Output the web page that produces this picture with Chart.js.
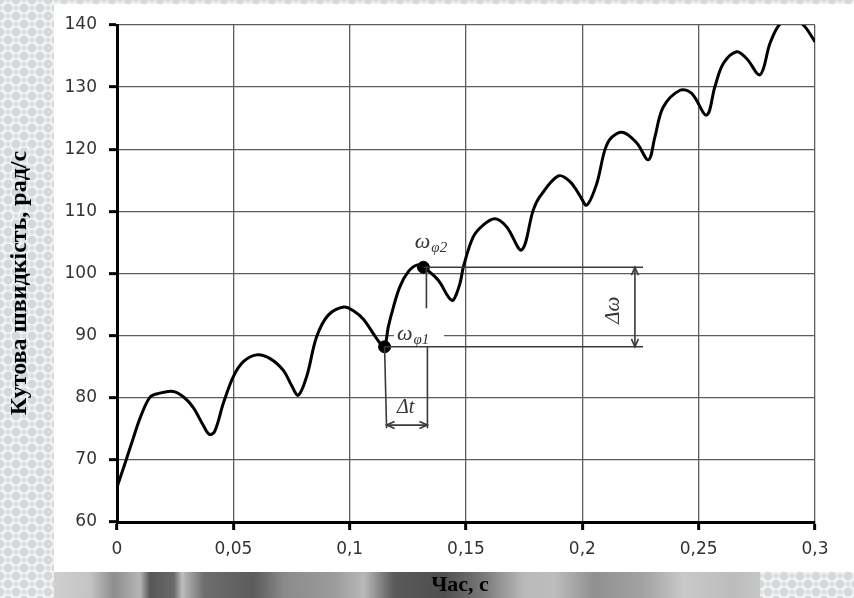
<!DOCTYPE html>
<html>
<head>
<meta charset="utf-8">
<script src="https://cdn.jsdelivr.net/npm/chart.js@4/dist/chart.umd.min.js"></script>
<style>
  html, body { margin: 0; padding: 0; }
  body {
    width: 854px; height: 598px; position: relative; overflow: hidden;
    background-color: #d6d9dc;
    background-image:
      radial-gradient(circle, transparent 4px, rgba(255,255,255,0.75) 5px, transparent 7px),
      radial-gradient(circle, transparent 4px, rgba(255,255,255,0.75) 5px, transparent 7px);
    background-size: 16px 16px;
    background-position: 0 0, 8px 8px;
  }
  #strip {
    position: absolute; left: 54px; top: 572px; width: 706px; height: 26px;
    background: linear-gradient(90deg, #cfcfcf 0px, #c4c4c4 36px, #8d8d8d 60px, #b5b5b5 86px, #575757 96px,
      #6a6a6a 120px, #bdbdbd 128px, #6e6e6e 150px, #5c5c5c 200px, #8a8a8a 230px, #9c9c9c 280px,
      #b8b8b8 310px, #5a5a5a 340px, #4e4e4e 390px, #7a7a7a 430px, #b9b9b9 470px, #bdbdbd 500px,
      #8f8f8f 540px, #a3a3a3 590px, #c9c9c9 630px, #bcbcbc 680px, #c6c6c6 706px);
  }
  #panel { position: absolute; left: 54px; top: 4px; width: 800px; height: 568px; background: #fff; }
  #chart { position: absolute; left: 0; top: 0; }
</style>
</head>
<body>
<div id="strip"></div>
<div id="panel"></div>
<canvas id="chart" width="854" height="598"></canvas>
<script>
// Angular speed of the rotor over time
const timeValues = [
  0.000, 0.0035, 0.007, 0.010, 0.0142, 0.018, 0.0242, 0.029, 0.0328, 0.037,
  0.0397, 0.042, 0.0457, 0.050, 0.0543, 0.060, 0.0658, 0.0715, 0.075, 0.0779,
  0.0815, 0.0858, 0.0908, 0.0975, 0.1016, 0.1060, 0.1100, 0.1130, 0.1150, 0.1166,
  0.1188, 0.1216, 0.1252, 0.1288, 0.1317, 0.1381, 0.1424, 0.1445, 0.1474, 0.1489,
  0.1531, 0.1574, 0.1625, 0.1675, 0.1739, 0.1789, 0.1818, 0.1897, 0.1947, 0.199,
  0.2019, 0.2062, 0.2097, 0.2126, 0.2176, 0.2234, 0.2284, 0.2312, 0.2348, 0.2420,
  0.2470, 0.2534, 0.2570, 0.2606, 0.2663, 0.2706, 0.2764, 0.2807, 0.2850, 0.2900,
  0.2950, 0.3000
];
const speedValues = [
  65.6, 69.5, 73.5, 76.8, 80.1, 80.7, 81.0, 80.0, 78.4, 75.6,
  74.1, 74.6, 79.1, 83.4, 85.8, 86.9, 86.3, 84.4, 82.0, 80.4,
  83.4, 89.8, 93.3, 94.6, 94.0, 92.6, 90.4, 88.8, 88.2, 91.4,
  94.6, 97.9, 100.3, 101.35, 101.0, 98.9, 96.25, 95.7, 98.4, 101.1,
  105.9, 107.8, 108.8, 107.5, 103.8, 110.2, 112.4, 115.7, 114.8, 112.5,
  111.0, 114.5, 119.9, 121.9, 122.7, 121.0, 118.3, 122.0, 126.8, 129.5,
  129.0, 125.5, 130.1, 133.8, 135.7, 134.6, 132.0, 137.1, 140.2, 141.0,
  140.0, 137.3
];

// Marked points ω_φ1 and ω_φ2
const markerTimes = [0.1150, 0.1317];
const markerSpeeds = [88.2, 101.0];
const markerSubscripts = ['φ1', 'φ2'];

// Axis ticks
const xTickLabels = ['0', '0,05', '0,1', '0,15', '0,2', '0,25', '0,3'];
const yMin = 60, yMax = 140, yStep = 10;

const xTitle = 'Час, с';
const yTitle = 'Кутова швидкість, рад/с';

// Dimension-line layout (in data units)
const guide = {
  lineEndTime: 0.2261,      // right end of the horizontal lines
  dOmegaArrowTime: 0.2226,  // vertical Δω arrow
  drop2EndSpeed: 94.4,      // end of the drop line under ω_φ2
  dtLineEndSpeed: 75.1,     // bottom of the Δt extension lines
  dtArrowSpeed: 75.6,       // Δt arrow level
  label2: [0.1280, 104.1],
  label1: [0.1203, 89.3],
  dtLabel: [0.1203, 77.5],
  dOmegaLabel: [0.2132, 94.1]
};

const lineData = timeValues.map((t, i) => ({ x: t, y: speedValues[i] }));
const markerData = markerTimes.map((t, i) => ({ x: t, y: markerSpeeds[i] }));

function arrowHead(ctx, x, y, dx, dy) {
  const len = 8, w = 3.5;
  const px = -dy, py = dx;
  ctx.beginPath();
  ctx.moveTo(x - dx * len + px * w, y - dy * len + py * w);
  ctx.lineTo(x, y);
  ctx.lineTo(x - dx * len - px * w, y - dy * len - py * w);
  ctx.stroke();
}

function drawOmega(ctx, x, y, sub) {
  ctx.font = 'italic 22px "Liberation Serif"';
  ctx.textAlign = 'left';
  ctx.textBaseline = 'alphabetic';
  ctx.fillText('ω', x, y);
  const w = ctx.measureText('ω').width;
  ctx.font = 'italic 15px "Liberation Serif"';
  ctx.fillText(sub, x + w + 1, y + 4);
}

const guidesPlugin = {
  id: 'guides',
  beforeDatasetsDraw(chart) {
    const { ctx, scales: { x, y } } = chart;
    // clear the grid behind the ω_φ1 label
    const lx = x.getPixelForValue(guide.label1[0]);
    const ly = y.getPixelForValue(guide.label1[1]);
    ctx.save();
    ctx.fillStyle = '#fff';
    ctx.fillRect(lx - 3, ly - 12, 50, 17);
    ctx.restore();
  },
  afterDatasetsDraw(chart) {
    const { ctx, scales: { x, y } } = chart;
    const X = v => x.getPixelForValue(v);
    const Y = v => y.getPixelForValue(v);
    const x1 = X(markerTimes[0]), y1 = Y(markerSpeeds[0]);
    const x2 = X(markerTimes[1]), y2 = Y(markerSpeeds[1]);
    const xr = X(guide.lineEndTime);
    const xa = X(guide.dOmegaArrowTime);
    const yDt = Y(guide.dtArrowSpeed);
    const yDtEnd = Y(guide.dtLineEndSpeed);

    ctx.save();
    ctx.strokeStyle = '#3a3a3a';
    ctx.fillStyle = '#333';
    ctx.lineWidth = 1.6;

    ctx.beginPath();
    // horizontal extension lines
    ctx.moveTo(x2, y2); ctx.lineTo(xr, y2);
    ctx.moveTo(x1, y1); ctx.lineTo(xr, y1);
    // drop line under ω_φ2
    ctx.moveTo(x2 + 3, y2); ctx.lineTo(x2 + 3, Y(guide.drop2EndSpeed));
    // Δt extension lines
    ctx.moveTo(x1, y1); ctx.lineTo(x1 + 2, yDtEnd);
    ctx.moveTo(x2 + 4, y1); ctx.lineTo(x2 + 4, yDtEnd);
    // Δω arrow shaft
    ctx.moveTo(xa, y2); ctx.lineTo(xa, y1);
    // Δt arrow shaft
    ctx.moveTo(x1 + 2, yDt); ctx.lineTo(x2 + 4, yDt);
    ctx.stroke();

    arrowHead(ctx, xa, y2, 0, -1);
    arrowHead(ctx, xa, y1, 0, 1);
    arrowHead(ctx, x1 + 2, yDt, -1, 0);
    arrowHead(ctx, x2 + 4, yDt, 1, 0);

    // labels
    drawOmega(ctx, X(guide.label2[0]), Y(guide.label2[1]), markerSubscripts[1]);
    drawOmega(ctx, X(guide.label1[0]), Y(guide.label1[1]), markerSubscripts[0]);

    ctx.font = 'italic 20px "Liberation Serif"';
    ctx.textAlign = 'left';
    ctx.textBaseline = 'alphabetic';
    ctx.fillText('Δt', X(guide.dtLabel[0]), Y(guide.dtLabel[1]));

    ctx.translate(X(guide.dOmegaLabel[0]), Y(guide.dOmegaLabel[1]));
    ctx.rotate(-Math.PI / 2);
    ctx.textAlign = 'center';
    ctx.textBaseline = 'middle';
    ctx.font = 'italic 21px "Liberation Serif"';
    ctx.fillText('Δω', 0, 0);
    ctx.restore();
  },
  afterDraw(chart) {
    const { ctx } = chart;
    ctx.save();
    ctx.fillStyle = '#000';
    ctx.textAlign = 'center';
    ctx.textBaseline = 'middle';
    ctx.font = 'bold 22px "Liberation Serif"';
    ctx.fillText(xTitle, 460, 585);
    ctx.translate(20, 283);
    ctx.rotate(-Math.PI / 2);
    ctx.font = 'bold 24px "Liberation Serif"';
    ctx.fillText(yTitle, 0, 0);
    ctx.restore();
  }
};

new Chart(document.getElementById('chart'), {
  type: 'line',
  data: {
    datasets: [
      {
        type: 'scatter',
        data: markerData,
        order: 0,
        pointRadius: 6,
        pointBackgroundColor: '#000',
        pointBorderColor: '#000',
        showLine: false
      },
      {
        data: lineData,
        order: 1,
        borderColor: '#000',
        borderWidth: 3,
        pointRadius: 0,
        tension: 0.35,
        fill: false
      }
    ]
  },
  options: {
    responsive: false,
    animation: false,
    devicePixelRatio: 1,
    layout: { padding: { top: 25, right: 39, bottom: 0, left: 0 } },
    plugins: { legend: { display: false }, tooltip: { enabled: false } },
    scales: {
      x: {
        type: 'linear',
        min: 0, max: 0.3,
        afterFit: s => { s.height = 76; },
        afterBuildTicks: s => { s.ticks = xTickLabels.map((_, i) => ({ value: i * 0.05 })); },
        ticks: {
          callback: (v, i) => xTickLabels[i],
          font: { family: 'DejaVu Sans', size: 17 },
          color: '#333',
          padding: 9,
          maxRotation: 0,
          autoSkip: false
        },
        grid: { color: '#5c5c5c', lineWidth: 1.3, tickLength: 8, tickColor: '#000', tickWidth: 3 },
        border: { color: '#000', width: 3 }
      },
      y: {
        min: yMin, max: yMax,
        afterFit: s => { s.width = 117; },
        ticks: {
          stepSize: yStep,
          font: { family: 'DejaVu Sans', size: 17 },
          color: '#333',
          padding: 12
        },
        grid: { color: '#5c5c5c', lineWidth: 1.3, tickLength: 8, tickColor: '#000', tickWidth: 3 },
        border: { color: '#000', width: 3 }
      }
    }
  },
  plugins: [guidesPlugin]
});
</script>
</body>
</html>
